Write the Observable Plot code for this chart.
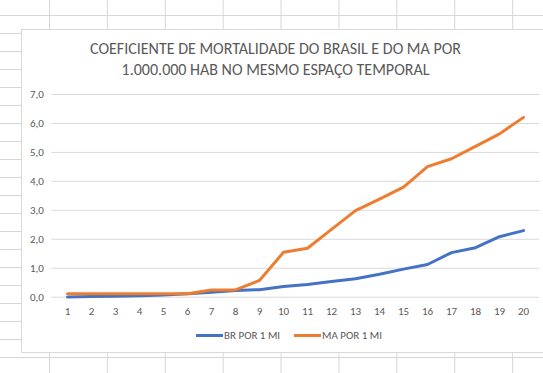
<!DOCTYPE html>
<html>
<head>
<meta charset="utf-8">
<script src="https://cdn.jsdelivr.net/npm/d3@7"></script>
<script src="https://cdn.jsdelivr.net/npm/@observablehq/plot@0.6"></script>
<style>
  html, body { margin: 0; padding: 0; background: #fff; }
  #page {
    position: relative; width: 543px; height: 373px; overflow: hidden;
    background-color: #fff;
    background-image:
      linear-gradient(to right, #d6d6d6 1px, transparent 1px),
      linear-gradient(to bottom, #d6d6d6 1px, transparent 1px);
    background-size: 57.9px 18px;
    background-position: 49px 15px;
    font-family: Carlito, Calibri, Lato, "Open Sans", sans-serif;
  }
  #chartbox {
    position: absolute; left: 21px; top: 29px; width: 540px; height: 322px;
    background: #fff; border: 1px solid #d9d9d9;
  }
  #title {
    position: absolute; left: 0; top: 37.5px; width: 551px; text-align: center;
    font-size: 16px; line-height: 21.7px; color: #595959; font-weight: 400;
  }
  #plot { position: absolute; left: 0; top: 0; }
  #legend {
    position: absolute; left: 196px; top: 327px; height: 16px;
    display: flex; align-items: center; font-size: 11px; color: #595959;
  }
  .sw { display: inline-block; width: 27px; height: 3px; margin-right: 1px; }
  .item { display: flex; align-items: center; margin-right: 14px; }
</style>
</head>
<body>
<div id="page">
  <div id="chartbox"></div>
  <div id="title">COEFICIENTE DE MORTALIDADE DO BRASIL E DO MA POR<br>1.000.000 HAB NO MESMO ESPAÇO TEMPORAL</div>
  <div id="plot"></div>
  <div id="legend"></div>
</div>
<script>
const periods = [1, 2, 3, 4, 5, 6, 7, 8, 9, 10, 11, 12, 13, 14, 15, 16, 17, 18, 19, 20];
const brValues = [0.01, 0.02, 0.03, 0.05, 0.08, 0.12, 0.17, 0.23, 0.26, 0.37, 0.44, 0.54, 0.64, 0.79, 0.97, 1.13, 1.54, 1.71, 2.09, 2.30];
const maValues = [0.12, 0.12, 0.12, 0.12, 0.12, 0.12, 0.25, 0.25, 0.58, 1.55, 1.69, 2.34, 2.99, 3.39, 3.80, 4.51, 4.78, 5.21, 5.64, 6.21];
const seriesNames = ["BR POR 1 MI", "MA POR 1 MI"];
const seriesColors = ["#4472C4", "#ED7D31"];
const yTicks = [0, 1, 2, 3, 4, 5, 6, 7];

const table = [
  ...periods.map((p, i) => ({period: p, value: brValues[i], series: seriesNames[0]})),
  ...periods.map((p, i) => ({period: p, value: maValues[i], series: seriesNames[1]}))
];
const fmt = d => d.toFixed(1).replace(".", ",");
const fontFamily = "Carlito, Calibri, Lato, 'Open Sans', sans-serif";

const chart = Plot.plot({
  width: 543,
  height: 373,
  marginTop: 94,
  marginBottom: 76.3,
  marginLeft: 51.3,
  marginRight: 3.8,
  style: {fontFamily, fontSize: "11px", color: "#595959", background: "transparent", overflow: "visible"},
  x: {type: "point", domain: periods, padding: 0.5, label: null},
  y: {domain: [0, 7], label: null},
  color: {domain: seriesNames, range: seriesColors},
  marks: [
    Plot.ruleY(yTicks, {stroke: "#d9d9d9", strokeWidth: 1}),
    Plot.axisY({ticks: yTicks, tickSize: 0, tickPadding: 8, tickFormat: fmt, label: null, fill: "#595959"}),
    Plot.axisX({tickSize: 0, tickPadding: 9.5, label: null, fill: "#595959"}),
    Plot.line(table, {x: "period", y: "value", z: "series", stroke: "series", strokeWidth: 3, strokeLinejoin: "round", strokeLinecap: "round"})
  ]
});
document.getElementById("plot").appendChild(chart);

const legend = document.getElementById("legend");
seriesNames.forEach((name, i) => {
  const item = document.createElement("span");
  item.className = "item";
  const sw = document.createElement("span");
  sw.className = "sw";
  sw.style.background = seriesColors[i];
  item.appendChild(sw);
  item.appendChild(document.createTextNode(name));
  legend.appendChild(item);
});
</script>
</body>
</html>
